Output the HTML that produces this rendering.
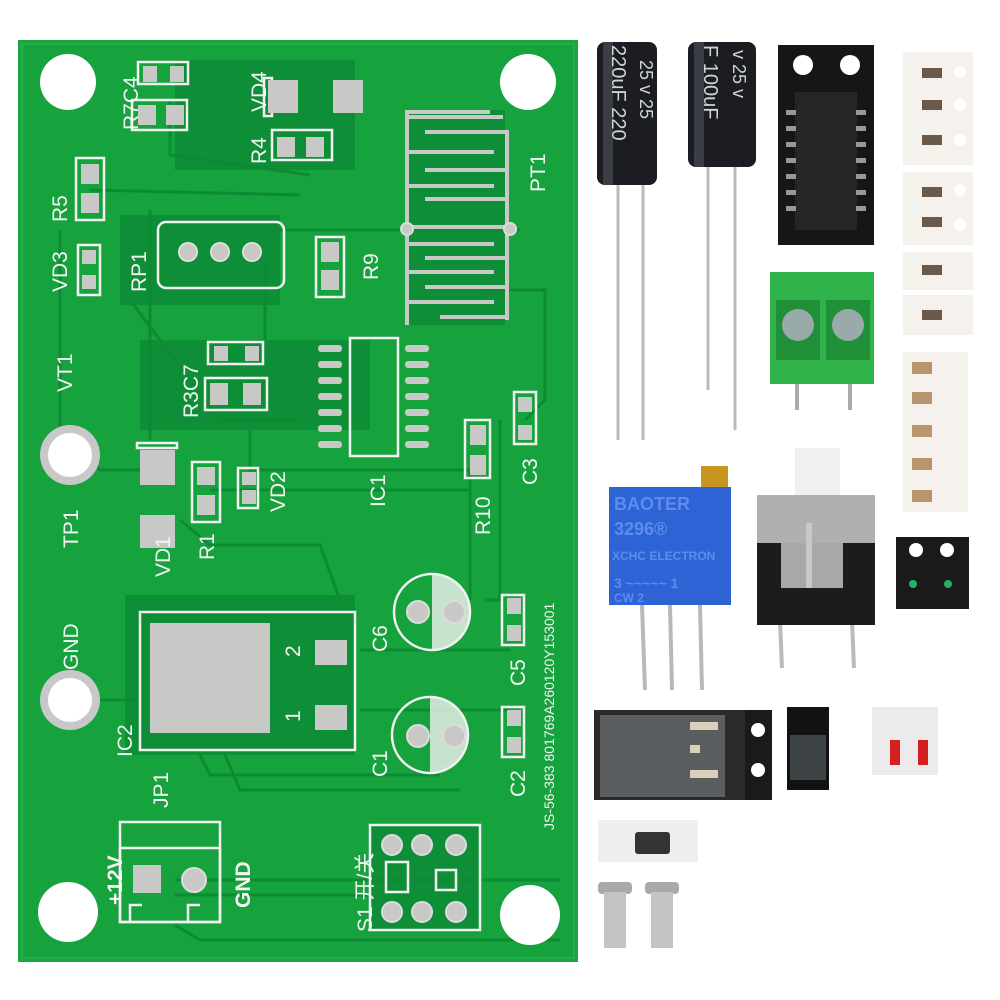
<!DOCTYPE html><html><head><meta charset="utf-8"><style>body{margin:0;background:#fff}svg{display:block}</style></head><body>
<svg width="1000" height="1000" viewBox="0 0 1000 1000" xmlns="http://www.w3.org/2000/svg" font-family="Liberation Sans, Noto Sans CJK SC, sans-serif">
<rect width="1000" height="1000" fill="#fff"/>
<!-- board -->
<rect x="18" y="40" width="560" height="922" fill="#1aa540"/>
<rect x="22" y="44" width="552" height="914" fill="#16a33d" stroke="#22b04a" stroke-width="2"/>
<!-- darker regions -->
<g fill="#0e8f37">
<rect x="405" y="110" width="100" height="215"/>
<rect x="175" y="60" width="180" height="110"/>
<rect x="120" y="215" width="160" height="90"/>
<rect x="140" y="340" width="230" height="90"/>
<rect x="125" y="595" width="230" height="160"/>
<rect x="370" y="825" width="110" height="105"/>
</g>
<!-- traces -->
<g fill="none" stroke="#0c8a34" stroke-width="3">
<path d="M90 190 L300 195"/><path d="M170 100 L170 155 L310 175"/>
<path d="M60 230 L60 430 L100 470 L170 470"/>
<path d="M150 210 L150 440"/><path d="M130 300 L220 420 L300 420"/>
<path d="M250 430 L250 470 L470 470 L470 600"/>
<path d="M480 290 L545 290 L545 400 L525 420"/>
<path d="M210 490 L470 490"/><path d="M180 520 L210 545 L320 545 L340 600"/>
<path d="M90 700 L140 700"/><path d="M200 755 L210 775 L440 775"/>
<path d="M225 755 L240 790 L460 790"/>
<path d="M175 880 L560 880"/><path d="M175 895 L370 895"/>
<path d="M175 925 L200 940 L560 940"/>
<path d="M360 650 L510 650"/><path d="M360 710 L510 710"/>
<path d="M485 600 L500 600 L500 420"/>
<path d="M280 230 L400 230 L520 230"/><path d="M265 265 L265 340"/>
</g>
<!-- mounting holes -->
<g fill="#fff"><circle cx="68" cy="82" r="28"/><circle cx="528" cy="82" r="28"/><circle cx="68" cy="912" r="30"/><circle cx="530" cy="915" r="30"/></g>
<g><circle cx="70" cy="455" r="30" fill="#c8c8c8"/><circle cx="70" cy="455" r="22" fill="#fff"/>
<circle cx="70" cy="700" r="30" fill="#c8c8c8"/><circle cx="70" cy="700" r="22" fill="#fff"/></g>
<!-- silkscreen outlines -->
<g fill="none" stroke="#f2f2f2" stroke-width="2.5">
<rect x="138" y="62" width="50" height="22"/><rect x="132" y="100" width="55" height="30"/>
<rect x="264" y="78" width="8" height="38"/>
<rect x="272" y="130" width="60" height="30"/>
<rect x="76" y="158" width="28" height="62"/>
<rect x="78" y="245" width="22" height="50"/>
<rect x="158" y="222" width="126" height="66" rx="8"/>
<rect x="316" y="237" width="28" height="60"/>
<rect x="405" y="110" width="100" height="215" stroke-width="0"/>
<rect x="208" y="342" width="55" height="22"/><rect x="205" y="378" width="62" height="32"/>
<rect x="350" y="338" width="48" height="118"/>
<rect x="465" y="420" width="25" height="58"/><rect x="514" y="392" width="22" height="52"/>
<rect x="137" y="443" width="40" height="5"/>
<rect x="192" y="462" width="28" height="60"/><rect x="238" y="468" width="20" height="40"/>
<rect x="140" y="612" width="215" height="138"/>
<rect x="502" y="595" width="22" height="50"/><rect x="502" y="707" width="22" height="50"/>
<circle cx="432" cy="612" r="38"/><circle cx="430" cy="735" r="38"/>
<rect x="120" y="822" width="100" height="100"/><rect x="120" y="848" width="100" height="74"/>
<rect x="370" y="825" width="110" height="105"/>
<rect x="386" y="862" width="22" height="30"/><rect x="436" y="870" width="20" height="20"/>
<path d="M130 922 V905 H142 M188 922 V905 H200"/>
</g>
<g fill="#f2f2f2" opacity="0.8"><path d="M432 574 A38 38 0 0 1 432 650 Z"/><path d="M430 697 A38 38 0 0 1 430 773 Z"/></g>
<!-- pads -->
<g fill="#c8c8c6">
<rect x="143" y="66" width="14" height="16"/><rect x="170" y="66" width="14" height="16"/>
<rect x="138" y="105" width="18" height="20"/><rect x="166" y="105" width="18" height="20"/>
<rect x="268" y="80" width="30" height="33"/><rect x="333" y="80" width="30" height="33"/>
<rect x="277" y="137" width="18" height="20"/><rect x="306" y="137" width="18" height="20"/>
<rect x="81" y="164" width="18" height="20"/><rect x="81" y="193" width="18" height="20"/>
<rect x="82" y="250" width="14" height="14"/><rect x="82" y="275" width="14" height="14"/>
<rect x="321" y="242" width="18" height="20"/><rect x="321" y="270" width="18" height="20"/>
<rect x="140" y="450" width="35" height="35"/><rect x="140" y="515" width="35" height="33"/>
<rect x="197" y="467" width="18" height="18"/><rect x="197" y="495" width="18" height="20"/>
<rect x="242" y="472" width="14" height="13"/><rect x="242" y="490" width="14" height="14"/>
<rect x="214" y="346" width="14" height="15"/><rect x="245" y="346" width="14" height="15"/>
<rect x="210" y="383" width="18" height="22"/><rect x="243" y="383" width="18" height="22"/>
<rect x="470" y="425" width="16" height="20"/><rect x="470" y="455" width="16" height="20"/>
<rect x="518" y="397" width="14" height="15"/><rect x="518" y="425" width="14" height="15"/>
<rect x="150" y="623" width="120" height="110"/>
<rect x="315" y="640" width="32" height="25"/><rect x="315" y="705" width="32" height="25"/>
<rect x="507" y="598" width="14" height="16"/><rect x="507" y="625" width="14" height="16"/>
<rect x="507" y="710" width="14" height="16"/><rect x="507" y="737" width="14" height="16"/>
<rect x="133" y="865" width="28" height="28"/>
<rect x="408" y="115" width="95" height="4"/>
</g>
<g fill="#c8c8c6">
<rect x="318" y="345" width="24" height="7" rx="3"/><rect x="318" y="361" width="24" height="7" rx="3"/><rect x="318" y="377" width="24" height="7" rx="3"/><rect x="318" y="393" width="24" height="7" rx="3"/><rect x="318" y="409" width="24" height="7" rx="3"/><rect x="318" y="425" width="24" height="7" rx="3"/><rect x="318" y="441" width="24" height="7" rx="3"/>
<rect x="405" y="345" width="24" height="7" rx="3"/><rect x="405" y="361" width="24" height="7" rx="3"/><rect x="405" y="377" width="24" height="7" rx="3"/><rect x="405" y="393" width="24" height="7" rx="3"/><rect x="405" y="409" width="24" height="7" rx="3"/><rect x="405" y="425" width="24" height="7" rx="3"/><rect x="405" y="441" width="24" height="7" rx="3"/>
</g>
<!-- PT1 comb -->
<g fill="#c8c8c6">
<rect x="405" y="110" width="4" height="215"/><rect x="505" y="130" width="4" height="190"/>
<rect x="405" y="110" width="85" height="4"/><rect x="425" y="130" width="84" height="4"/><rect x="409" y="150" width="85" height="4"/><rect x="425" y="168" width="84" height="4"/><rect x="409" y="184" width="85" height="4"/><rect x="425" y="197" width="84" height="4"/><rect x="409" y="225" width="100" height="4"/><rect x="409" y="242" width="85" height="4"/><rect x="425" y="256" width="84" height="4"/><rect x="409" y="270" width="85" height="4"/><rect x="425" y="285" width="84" height="4"/><rect x="409" y="300" width="85" height="4"/><rect x="440" y="315" width="69" height="4"/>
</g>
<!-- through holes -->
<g fill="#c8c8c6" stroke="#dcdcdc" stroke-width="2">
<circle cx="188" cy="252" r="9"/><circle cx="220" cy="252" r="9"/><circle cx="252" cy="252" r="9"/>
<circle cx="418" cy="612" r="11"/><circle cx="454" cy="612" r="11"/>
<circle cx="418" cy="736" r="11"/><circle cx="454" cy="736" r="11"/>
<circle cx="194" cy="880" r="12"/>
<circle cx="392" cy="845" r="10"/><circle cx="422" cy="845" r="10"/><circle cx="456" cy="845" r="10"/>
<circle cx="392" cy="912" r="10"/><circle cx="422" cy="912" r="10"/><circle cx="456" cy="912" r="10"/>
<circle cx="407" cy="229" r="6"/><circle cx="510" cy="229" r="6"/>
</g>
<!-- labels -->
<g fill="#f4f4f4" font-size="21">
<text transform="translate(138,130) rotate(-90)">R7C4</text>
<text transform="translate(266,112) rotate(-90)">VD4</text>
<text transform="translate(266,164) rotate(-90)">R4</text>
<text transform="translate(67,222) rotate(-90)">R5</text>
<text transform="translate(67,292) rotate(-90)">VD3</text>
<text transform="translate(146,292) rotate(-90)">RP1</text>
<text transform="translate(378,280) rotate(-90)">R9</text>
<text transform="translate(545,192) rotate(-90)">PT1</text>
<text transform="translate(198,418) rotate(-90)">R3C7</text>
<text transform="translate(72,392) rotate(-90)">VT1</text>
<text transform="translate(385,507) rotate(-90)">IC1</text>
<text transform="translate(490,535) rotate(-90)">R10</text>
<text transform="translate(537,485) rotate(-90)">C3</text>
<text transform="translate(78,548) rotate(-90)">TP1</text>
<text transform="translate(285,512) rotate(-90)">VD2</text>
<text transform="translate(214,560) rotate(-90)">R1</text>
<text transform="translate(170,577) rotate(-90)">VD1</text>
<text transform="translate(78,670) rotate(-90)">GND</text>
<text transform="translate(387,652) rotate(-90)">C6</text>
<text transform="translate(525,686) rotate(-90)">C5</text>
<text transform="translate(132,757) rotate(-90)">IC2</text>
<text transform="translate(387,777) rotate(-90)">C1</text>
<text transform="translate(525,797) rotate(-90)">C2</text>
<text transform="translate(168,808) rotate(-90)">JP1</text>
<text transform="translate(300,657) rotate(-90)">2</text>
<text transform="translate(300,722) rotate(-90)">1</text>
<text transform="translate(122,905) rotate(-90)" font-weight="bold">+12V</text>
<text transform="translate(250,908) rotate(-90)" font-weight="bold">GND</text>
<text transform="translate(372,932) rotate(-90)">S1 开/关</text>
<text transform="translate(554,830) rotate(-90)" font-size="14">JS-56-383 801769A260120Y153001</text>
</g>
<!-- ============ right side components ============ -->
<!-- capacitors -->
<g stroke="#bbb" stroke-width="3"><line x1="618" y1="180" x2="618" y2="440"/><line x1="643" y1="180" x2="643" y2="440"/><line x1="708" y1="165" x2="708" y2="390"/><line x1="735" y1="165" x2="735" y2="430"/></g>
<rect x="597" y="42" width="60" height="143" rx="8" fill="#1b1d22"/>
<rect x="603" y="42" width="10" height="143" fill="#3a3d44"/>
<text transform="translate(612,45) rotate(90)" fill="#cfd3d8" font-size="20">220uF 220</text>
<text transform="translate(640,60) rotate(90)" fill="#cfd3d8" font-size="18">25 v  25</text>
<rect x="688" y="42" width="68" height="125" rx="8" fill="#1b1d22"/>
<rect x="694" y="42" width="10" height="125" fill="#3a3d44"/>
<text transform="translate(704,45) rotate(90)" fill="#cfd3d8" font-size="20">F 100uF</text>
<text transform="translate(733,50) rotate(90)" fill="#cfd3d8" font-size="18">v  25 v</text>
<!-- SOIC tape -->
<rect x="778" y="45" width="96" height="200" fill="#161616"/>
<circle cx="803" cy="65" r="10" fill="#fff"/><circle cx="850" cy="65" r="10" fill="#fff"/>
<rect x="795" y="92" width="62" height="138" fill="#262626"/>
<g fill="#999"><rect x="786" y="110" width="10" height="5"/><rect x="786" y="126" width="10" height="5"/><rect x="786" y="142" width="10" height="5"/><rect x="786" y="158" width="10" height="5"/><rect x="786" y="174" width="10" height="5"/><rect x="786" y="190" width="10" height="5"/><rect x="786" y="206" width="10" height="5"/>
<rect x="856" y="110" width="10" height="5"/><rect x="856" y="126" width="10" height="5"/><rect x="856" y="142" width="10" height="5"/><rect x="856" y="158" width="10" height="5"/><rect x="856" y="174" width="10" height="5"/><rect x="856" y="190" width="10" height="5"/><rect x="856" y="206" width="10" height="5"/></g>
<!-- resistor tapes -->
<g fill="#f5f1ec"><rect x="903" y="52" width="70" height="113"/><rect x="903" y="172" width="70" height="73"/><rect x="903" y="252" width="70" height="38"/><rect x="903" y="295" width="70" height="40"/><rect x="903" y="352" width="65" height="160"/></g>
<g fill="#fff"><circle cx="960" cy="72" r="6"/><circle cx="960" cy="105" r="6"/><circle cx="960" cy="140" r="6"/><circle cx="960" cy="190" r="6"/><circle cx="960" cy="225" r="6"/></g>
<g fill="#6b5a4a"><rect x="922" y="68" width="20" height="10"/><rect x="922" y="100" width="20" height="10"/><rect x="922" y="135" width="20" height="10"/><rect x="922" y="187" width="20" height="10"/><rect x="922" y="217" width="20" height="10"/><rect x="922" y="265" width="20" height="10"/><rect x="922" y="310" width="20" height="10"/></g>
<g fill="#b89470"><rect x="912" y="362" width="20" height="12"/><rect x="912" y="392" width="20" height="12"/><rect x="912" y="425" width="20" height="12"/><rect x="912" y="458" width="20" height="12"/><rect x="912" y="490" width="20" height="12"/></g>
<!-- green terminal -->
<g stroke="#aaa" stroke-width="4"><line x1="797" y1="380" x2="797" y2="410"/><line x1="850" y1="380" x2="850" y2="410"/></g>
<rect x="770" y="272" width="104" height="112" fill="#2fb24a"/>
<rect x="776" y="300" width="44" height="60" fill="#1f8f38"/><rect x="826" y="300" width="44" height="60" fill="#1f8f38"/>
<circle cx="798" cy="325" r="16" fill="#9aa"/><circle cx="848" cy="325" r="16" fill="#9aa"/>
<!-- pot -->
<g stroke="#b8b8b8" stroke-width="4"><line x1="642" y1="605" x2="645" y2="690"/><line x1="670" y1="605" x2="672" y2="690"/><line x1="700" y1="605" x2="702" y2="690"/></g>
<rect x="701" y="466" width="27" height="22" fill="#c8961e"/>
<rect x="609" y="487" width="122" height="118" fill="#2d63d4"/>
<g fill="#5d8cee" font-size="18" font-weight="bold"><text x="614" y="510">BAOTER</text><text x="614" y="535">3296®</text><text x="612" y="560" font-size="12">XCHC ELECTRON</text><text x="614" y="588" font-size="14">3 ~~~~~ 1</text><text x="614" y="602" font-size="12">CW  2</text></g>
<!-- switch -->
<g stroke="#bbb" stroke-width="4"><line x1="780" y1="620" x2="782" y2="668"/><line x1="852" y1="620" x2="854" y2="668"/></g>
<rect x="795" y="448" width="45" height="48" fill="#f0f0f0"/>
<rect x="757" y="495" width="118" height="52" fill="#b0b0b0"/>
<rect x="757" y="543" width="118" height="82" fill="#1c1c1c"/>
<rect x="781" y="543" width="62" height="45" fill="#a8a8a8"/>
<rect x="806" y="523" width="6" height="65" fill="#c8c8c8"/>
<!-- LED tape -->
<rect x="896" y="537" width="73" height="72" fill="#1a1a1a"/>
<circle cx="916" cy="550" r="7" fill="#fff"/><circle cx="947" cy="550" r="7" fill="#fff"/>
<circle cx="913" cy="584" r="4" fill="#23b06a"/><circle cx="948" cy="584" r="4" fill="#23b06a"/>
<!-- DPAK -->
<rect x="594" y="710" width="178" height="90" fill="#2a2a2a"/>
<rect x="600" y="715" width="125" height="82" fill="#5a5e60"/>
<rect x="745" y="710" width="27" height="90" fill="#1a1a1a"/>
<circle cx="758" cy="730" r="7" fill="#fff"/><circle cx="758" cy="770" r="7" fill="#fff"/>
<g fill="#ddd0b8"><rect x="690" y="722" width="28" height="8"/><rect x="690" y="745" width="10" height="8"/><rect x="690" y="770" width="28" height="8"/></g>
<!-- SOT23 -->
<rect x="787" y="707" width="42" height="83" fill="#121212"/>
<rect x="790" y="735" width="36" height="45" fill="#3e4446"/>
<!-- diodes -->
<rect x="872" y="707" width="66" height="68" fill="#eceaea"/>
<rect x="890" y="740" width="10" height="25" fill="#d52020"/><rect x="918" y="740" width="10" height="25" fill="#d52020"/>
<!-- small part -->
<rect x="598" y="820" width="100" height="42" fill="#efefef"/>
<rect x="635" y="832" width="35" height="22" rx="3" fill="#333"/>
<!-- pins -->
<rect x="598" y="882" width="34" height="12" rx="4" fill="#a9a9a9"/><rect x="604" y="892" width="22" height="56" fill="#c4c4c4"/>
<rect x="645" y="882" width="34" height="12" rx="4" fill="#a9a9a9"/><rect x="651" y="892" width="22" height="56" fill="#c4c4c4"/>
</svg>
</body></html>
